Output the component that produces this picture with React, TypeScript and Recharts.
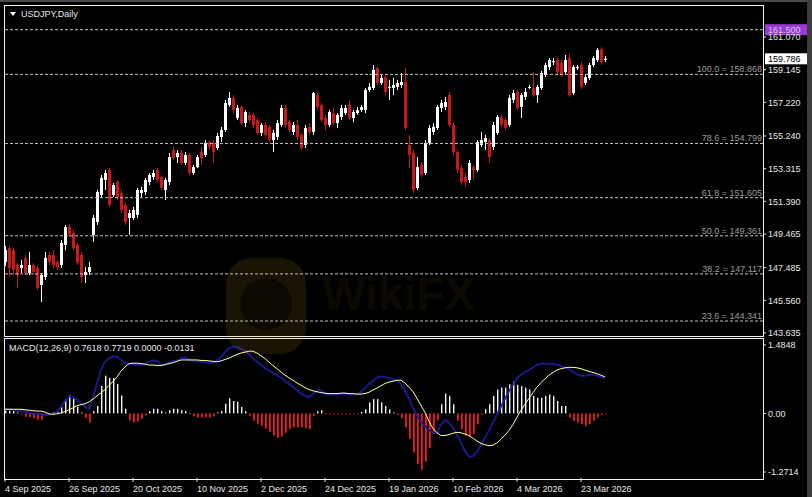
import { Bar, ComposedChart, Line, ReferenceLine, XAxis, YAxis } from 'recharts'

const W = 812
const H = 497
const FONT = '"Liberation Sans", Arial, sans-serif'
const SLOTS = 190

// daily candles, index 0 = 4 Sep 2025
const opens = [
  147.82, 148.64, 148.52, 147.64, 147.46, 148.05, 147.17, 147.64, 147.46, 146.46,
  146.93, 148.23, 148.23, 147.82, 147.64, 148.82, 149.88, 149.53, 148.82, 148.23,
  147.05, 147.23, 149.41, 150.17, 151.76, 152.65, 153.24, 151.76, 152.53, 151.88,
  151.18, 150.41, 150.41, 150.59, 151.88, 151.94, 152.53, 152.82, 153.24, 152.82,
  152.06, 152.53, 154.41, 154.0, 154.24, 153.65, 154.12, 153.06, 153.41, 154.3,
  154.12, 154.89, 154.83, 154.53, 155.18, 155.59, 157.07, 157.48, 156.3, 156.95,
  156.0, 156.48, 156.48, 156.18, 155.42, 155.89, 155.77, 155.0, 155.18, 155.89,
  156.89, 156.06, 155.47, 155.89, 155.3, 154.71, 155.77, 155.47, 157.65, 157.07,
  156.3, 155.89, 156.59, 156.0, 156.36, 156.59, 157.07, 156.3, 156.59, 156.77,
  156.77, 157.95, 158.07, 159.24, 158.36, 158.71, 158.07, 158.07, 158.13, 158.24,
  158.42, 154.71, 154.24, 152.18, 153.53, 153.06, 154.83, 155.47, 155.71, 156.89,
  156.95, 157.65, 155.89, 154.3, 153.35, 152.82, 152.65, 153.41, 153.24, 154.71,
  154.89, 155.0, 154.59, 155.42, 156.36, 156.18, 155.89, 157.36, 157.83, 156.95,
  157.54, 158.07, 158.07, 157.65, 158.07, 158.83, 159.3, 159.6, 159.72, 159.54,
  159.01, 159.83, 157.77, 159.24, 159.42, 158.36, 158.66, 159.42, 159.72, 160.36,
  159.72,
]
const highs = [
  148.76, 148.76, 148.64, 147.76, 147.94, 148.23, 148.41, 147.76, 147.58, 147.17,
  148.41, 148.41, 148.52, 147.94, 149.11, 150.0, 150.06, 149.7, 148.94, 148.41,
  147.52, 147.82, 150.59, 152.06, 152.94, 153.24, 153.35, 152.47, 152.65, 152.06,
  151.35, 150.88, 151.06, 152.18, 152.24, 152.77, 153.06, 153.24, 153.35, 152.94,
  152.77, 154.24, 154.59, 154.41, 154.41, 154.3, 154.24, 153.53, 154.12, 154.59,
  155.0, 155.0, 155.0, 155.42, 155.77, 157.36, 157.83, 157.65, 157.07, 157.07,
  156.77, 156.65, 156.59, 156.3, 156.0, 156.06, 155.89, 155.59, 156.18, 157.07,
  157.07, 156.18, 156.06, 156.18, 155.42, 155.89, 156.0, 157.83, 157.77, 157.18,
  156.48, 156.77, 156.89, 156.59, 157.07, 157.07, 157.36, 156.77, 156.95, 157.07,
  158.07, 158.36, 159.42, 159.36, 158.83, 158.83, 158.54, 158.66, 158.54, 158.95,
  159.24, 155.3, 154.41, 154.0, 153.71, 155.0, 155.89, 156.0, 157.07, 157.36,
  157.54, 157.83, 156.0, 154.41, 153.53, 153.06, 153.83, 153.53, 155.0, 155.47,
  155.3, 155.12, 156.06, 156.48, 156.48, 156.3, 157.65, 157.95, 157.95, 157.77,
  158.07, 158.24, 159.01, 158.24, 159.07, 159.54, 159.83, 159.83, 159.83, 159.72,
  160.01, 160.07, 159.42, 159.42, 159.6, 158.83, 159.54, 159.95, 160.42, 160.48,
  159.95,
]
const lows = [
  147.58, 146.93, 147.05, 146.29, 147.17, 147.05, 147.05, 147.05, 146.17, 145.46,
  146.76, 147.64, 147.46, 147.35, 147.46, 148.52, 149.29, 148.52, 147.64, 146.58,
  146.58, 147.05, 149.0, 150.0, 151.59, 152.06, 151.06, 151.65, 151.47, 150.7,
  150.0, 149.41, 150.29, 150.41, 151.65, 151.76, 152.35, 152.65, 152.53, 152.06,
  151.47, 152.35, 153.83, 153.65, 153.53, 153.53, 152.94, 152.94, 153.35, 153.53,
  154.0, 154.41, 153.65, 154.41, 154.89, 155.47, 156.95, 156.59, 156.18, 155.89,
  155.77, 156.0, 155.71, 155.3, 155.24, 155.18, 154.89, 154.3, 155.0, 155.77,
  155.71, 155.47, 155.3, 155.0, 154.41, 154.53, 155.3, 155.3, 156.77, 156.06,
  155.59, 155.77, 155.89, 155.71, 156.18, 156.48, 156.18, 156.06, 156.48, 156.65,
  156.59, 157.83, 157.95, 158.24, 158.24, 157.65, 157.36, 157.65, 157.95, 158.07,
  155.59, 153.35, 151.88, 152.06, 152.82, 152.94, 154.71, 155.3, 155.59, 156.65,
  156.77, 155.77, 154.12, 153.06, 152.35, 152.24, 152.47, 152.65, 153.12, 154.59,
  154.41, 153.65, 154.41, 155.3, 155.77, 155.59, 155.77, 157.18, 156.77, 156.3,
  157.36, 158.0, 157.54, 157.18, 157.95, 158.71, 159.13, 159.42, 158.89, 158.71,
  158.89, 157.54, 157.65, 159.13, 158.0, 158.24, 158.54, 159.3, 159.6, 159.42,
  159.6,
]
const closes = [
  148.52, 147.46, 147.35, 147.05, 147.64, 147.17, 147.64, 147.23, 146.29, 147.05,
  148.05, 147.82, 147.64, 147.52, 148.94, 149.88, 149.41, 148.64, 147.76, 146.93,
  147.23, 147.52, 150.41, 151.94, 152.77, 153.06, 151.18, 152.35, 151.65, 150.88,
  150.17, 150.7, 150.88, 152.06, 152.06, 152.65, 152.94, 153.06, 152.65, 152.18,
  152.65, 154.0, 153.94, 154.24, 153.65, 154.12, 153.06, 153.41, 154.0, 153.94,
  154.83, 154.59, 154.3, 155.24, 155.59, 157.18, 157.48, 156.77, 156.89, 156.0,
  156.65, 156.18, 155.89, 155.42, 155.89, 155.3, 155.0, 155.42, 156.0, 156.89,
  155.89, 155.59, 155.89, 155.18, 154.53, 155.71, 155.47, 157.77, 156.95, 156.18,
  155.89, 156.65, 156.0, 156.48, 156.89, 156.89, 156.3, 156.65, 156.77, 156.95,
  157.95, 158.13, 159.13, 158.36, 158.66, 157.83, 158.13, 158.24, 158.36, 158.42,
  155.71, 154.12, 152.06, 153.41, 152.94, 154.83, 155.71, 155.77, 156.95, 157.18,
  157.24, 155.89, 154.3, 153.24, 152.53, 152.53, 153.65, 153.24, 154.89, 155.0,
  155.12, 154.0, 155.89, 156.36, 155.89, 155.71, 157.48, 157.77, 156.89, 157.65,
  157.83, 158.13, 157.65, 158.13, 158.95, 159.42, 159.72, 159.65, 159.01, 158.83,
  159.72, 157.65, 159.3, 159.3, 158.13, 158.71, 159.42, 159.83, 160.3, 159.6,
  159.79,
]

// MACD pane
const macdLine = [
  0.1, 0.09, 0.08, 0.06, 0.05, 0.04, 0.02, 0.0, -0.01, -0.02,
  -0.03, -0.03, -0.01, 0.03, 0.14, 0.27, 0.36, 0.36, 0.3, 0.22,
  0.14, 0.1, 0.35, 0.65, 0.95, 1.12, 1.2, 1.24, 1.23, 1.16,
  1.1, 1.08, 1.07, 1.05, 1.06, 1.06, 1.13, 1.15, 1.14, 1.06,
  1.06, 1.1, 1.13, 1.16, 1.2, 1.21, 1.17, 1.14, 1.13, 1.12,
  1.11, 1.1, 1.1, 1.15, 1.22, 1.33, 1.41, 1.45, 1.44, 1.4,
  1.36, 1.28, 1.2, 1.12, 1.05, 0.98, 0.93, 0.88, 0.83, 0.77,
  0.71, 0.64, 0.58, 0.5, 0.43, 0.38, 0.35, 0.42, 0.5, 0.5,
  0.42, 0.41, 0.41, 0.41, 0.42, 0.43, 0.42, 0.41, 0.41, 0.47,
  0.55, 0.64, 0.71, 0.78, 0.8, 0.79, 0.77, 0.74, 0.71, 0.65,
  0.49, 0.32, 0.12, -0.05, -0.18, -0.28, -0.36, -0.42, -0.44, -0.24,
  -0.14, -0.2, -0.32, -0.46, -0.64, -0.82, -0.94, -0.93, -0.83, -0.68,
  -0.52, -0.37, -0.2, -0.02, 0.15, 0.32, 0.48, 0.62, 0.76, 0.84,
  0.9, 0.94, 1.0, 1.06, 1.08, 1.08, 1.08, 1.07, 1.06, 1.03,
  1.0, 0.96, 0.9, 0.85, 0.82, 0.82, 0.84, 0.84, 0.82, 0.79,
  0.76,
]
const signalLine = [
  0.09, 0.09, 0.09, 0.09, 0.09, 0.08, 0.07, 0.06, 0.05, 0.05,
  0.03, -0.01, -0.02, -0.01, 0.01, 0.04, 0.08, 0.12, 0.17, 0.19,
  0.21, 0.25, 0.31, 0.38, 0.45, 0.52, 0.61, 0.69, 0.79, 0.92,
  1.01, 1.08, 1.09, 1.09, 1.08, 1.07, 1.05, 1.05, 1.04, 1.04,
  1.06, 1.08, 1.1, 1.13, 1.16, 1.16, 1.16, 1.16, 1.16, 1.15,
  1.15, 1.14, 1.13, 1.12, 1.14, 1.17, 1.2, 1.24, 1.28, 1.31,
  1.33, 1.35, 1.35, 1.31, 1.25, 1.19, 1.11, 1.04, 0.97, 0.9,
  0.83, 0.77, 0.72, 0.66, 0.61, 0.56, 0.52, 0.49, 0.47, 0.45,
  0.44, 0.43, 0.43, 0.43, 0.44, 0.44, 0.43, 0.43, 0.42, 0.42,
  0.43, 0.46, 0.51, 0.55, 0.6, 0.65, 0.68, 0.7, 0.72, 0.72,
  0.66, 0.57, 0.47, 0.33, 0.17, 0.02, -0.17, -0.33, -0.42, -0.48,
  -0.48, -0.46, -0.43, -0.41, -0.42, -0.45, -0.48, -0.54, -0.6, -0.65,
  -0.68, -0.7, -0.69, -0.64, -0.56, -0.47, -0.37, -0.24, -0.08, 0.07,
  0.2, 0.33, 0.45, 0.57, 0.67, 0.75, 0.83, 0.89, 0.94, 0.97,
  0.99, 1.0, 1.0, 0.99, 0.97, 0.94, 0.91, 0.89, 0.86, 0.83,
  0.79,
]
const histogram = [
  0.06, 0.06, 0.05, 0.02, -0.02, -0.07, -0.08, -0.1, -0.14, -0.14,
  -0.05, -0.02, 0.03, 0.05, 0.14, 0.3, 0.39, 0.32, 0.14, 0.02,
  -0.1, -0.2, 0.05, 0.16, 0.6, 0.82, 0.77, 0.77, 0.64, 0.39,
  0.1, -0.15, -0.2, -0.18, -0.12, -0.04, 0.05, 0.1, 0.1, 0.05,
  0.02, 0.07, 0.1, 0.1, 0.07, 0.05, 0.01, -0.06, -0.09, -0.09,
  -0.08, -0.09, -0.06, 0.02, 0.05, 0.21, 0.33, 0.27, 0.25, 0.14,
  0.05, -0.05, -0.16, -0.22, -0.27, -0.33, -0.4, -0.48, -0.53, -0.5,
  -0.42, -0.34, -0.3, -0.3, -0.3, -0.32, -0.34, -0.05, 0.05, 0.07,
  -0.02, -0.02, -0.02, -0.02, -0.02, -0.02, -0.02, -0.02, -0.02, 0.03,
  0.09, 0.24, 0.31, 0.31, 0.24, 0.16, 0.09, 0.02, -0.03, -0.1,
  -0.3, -0.55, -0.85, -1.1, -1.23, -1.05, -0.75, -0.45, -0.15, 0.2,
  0.43, 0.38, 0.2, -0.16, -0.34, -0.48, -0.52, -0.44, -0.23, -0.03,
  0.09, 0.2, 0.38, 0.52, 0.56, 0.56, 0.63, 0.69, 0.62, 0.59,
  0.56, 0.52, 0.38, 0.34, 0.34, 0.38, 0.41, 0.38, 0.27, 0.16,
  0.16, -0.09, -0.16, -0.2, -0.23, -0.27, -0.23, -0.16, -0.09, -0.03,
  -0.01,
]

const dateTickIdx = [0, 16, 32, 48, 64, 80, 96, 112, 128, 144]
const dateLabels = [
  '4 Sep 2025', '26 Sep 2025', '20 Oct 2025', '10 Nov 2025', '2 Dec 2025',
  '24 Dec 2025', '19 Jan 2026', '10 Feb 2026', '4 Mar 2026', '23 Mar 2026',
]
const priceTicks = [161.07, 159.145, 157.22, 155.24, 153.315, 151.39, 149.465, 147.485, 145.56, 143.635]
const fibLevels = [158.868, 154.799, 151.605, 149.361, 147.117, 144.341]
const fibNames = ['100.0', '78.6', '61.8', '50.0', '38.2', '23.6']
const targetLevel = 161.5
const lastPrice = 159.786
const macdTicks = [1.4848, 0, -1.2714]
const macdLegend = 'MACD(12,26,9) 0.7618 0.7719 0.0000 -0.0131'

const rows = Array.from({ length: SLOTS }, (_, i) => ({
  i,
  open: opens[i],
  high: highs[i],
  low: lows[i],
  close: closes[i],
  macd: macdLine[i],
  signal: signalLine[i],
  hist: histogram[i],
}))

const Candle = (props: any) => {
  const { x, y, width, height, index } = props
  const high = highs[index]
  if (high == null) return <g />
  const low = lows[index]
  const open = opens[index]
  const close = closes[index]
  const top = Math.min(y, y + height)
  const h = Math.abs(height)
  const k = h / (high - low)
  const cx = Math.round(x + width / 2)
  const yO = top + (high - open) * k
  const yC = top + (high - close) * k
  const color = close >= open ? '#ffffff' : '#c81818'
  return (
    <g>
      <line x1={cx + 0.5} x2={cx + 0.5} y1={top} y2={top + h} stroke={color} strokeWidth={1} />
      <rect x={cx - 1} y={Math.min(yO, yC)} width={3} height={Math.max(1, Math.abs(yO - yC))} fill={color} />
    </g>
  )
}

const HistBar = (props: any) => {
  const { x, y, width, height, index } = props
  const v = histogram[index]
  if (v == null) return <g />
  const cx = Math.round(x + width / 2)
  return (
    <rect
      x={cx}
      y={Math.min(y, y + height)}
      width={v >= 0 ? 1.4 : 1.8}
      height={Math.max(0.5, Math.abs(height))}
      fill={v >= 0 ? '#f4f4f4' : '#f01a1a'}
    />
  )
}

const fibLabel = (text: string) => (p: any) => {
  const vb = p.viewBox
  return (
    <text x={vb.x + vb.width - 1} y={vb.y - 2} textAnchor="end" fill="#9c9c9c" fontSize={9} fontFamily={FONT}>
      {text}
    </text>
  )
}

const axisTag = (text: string, bg: string, fg: string) => (p: any) => {
  const vb = p.viewBox
  const x0 = vb.x + vb.width + 2
  return (
    <g>
      <rect x={x0} y={vb.y - 5.5} width={42} height={11} fill={bg} />
      <text x={x0 + 3} y={vb.y + 3.5} fill={fg} fontSize={9} fontFamily={FONT}>
        {text}
      </text>
    </g>
  )
}

const DateTick = (props: any) => {
  const { x, y, payload } = props
  const k = dateTickIdx.indexOf(payload.value)
  return (
    <text x={x} y={y} dy={8} textAnchor="start" fill="#e8e8e8" fontSize={9} fontFamily={FONT}>
      {dateLabels[k]}
    </text>
  )
}

const tickStyle = { fill: '#e8e8e8', fontSize: 9, fontFamily: FONT }

export default function App() {
  return (
    <div style={{ position: 'absolute', left: 0, top: 0, width: W, height: H, background: '#000', overflow: 'hidden' }}>
      {/* window edges */}
      <div style={{ position: 'absolute', left: 0, top: 0, width: W, height: 2, background: '#4a4a4a' }} />
      <div style={{ position: 'absolute', left: 807, top: 0, width: 5, height: H, background: '#3c3c3c' }} />
      {/* pane frames */}
      <div style={{ position: 'absolute', left: 4, top: 5, width: 760, height: 332, border: '1px solid #f0f0f0', boxSizing: 'border-box' }} />
      <div style={{ position: 'absolute', left: 4, top: 338, width: 760, height: 142, border: '1px solid #f0f0f0', boxSizing: 'border-box' }} />

      <div style={{ position: 'absolute', left: 0, top: 0 }}>
        <ComposedChart width={W} height={H} data={rows} margin={{ top: 6, right: 0, bottom: 162, left: 3 }} barCategoryGap={0} barGap={0}>
          <XAxis dataKey="i" hide />
          <YAxis
            orientation="right"
            width={49}
            domain={[143.517, 162.896]}
            allowDataOverflow
            ticks={priceTicks}
            interval={0}
            tickFormatter={(v: number) => v.toFixed(3)}
            tickSize={3}
            tickMargin={2}
            axisLine={false}
            tickLine={{ stroke: '#e8e8e8' }}
            tick={tickStyle}
          />
          <ReferenceLine y={targetLevel} stroke="#c4c4c4" strokeDasharray="3 2" label={axisTag('161.500', '#9a3ad6', '#d8c8e8')} />
          {fibLevels.map((lv, k) => (
            <ReferenceLine
              key={lv}
              y={lv}
              stroke="#c4c4c4"
              strokeDasharray="3 2"
              label={fibLabel(`${fibNames[k]} = ${lv.toFixed(3)}`)}
            />
          ))}
          <Bar
            dataKey={(d: any) => (d.high == null ? null : [d.low, d.high])}
            shape={(p: any) => <Candle {...p} />}
            isAnimationActive={false}
          />
          <ReferenceLine y={lastPrice} stroke="none" label={axisTag(lastPrice.toFixed(3), '#ffffff', '#000000')} />
        </ComposedChart>
      </div>

      <div style={{ position: 'absolute', left: 0, top: 0 }}>
        <ComposedChart width={W} height={H} data={rows} margin={{ top: 339, right: 0, bottom: 0, left: 3 }} barCategoryGap={0} barGap={0}>
          <XAxis
            dataKey="i"
            ticks={dateTickIdx}
            interval={0}
            height={19}
            tickSize={4}
            tickMargin={2}
            axisLine={false}
            tickLine={{ stroke: '#e8e8e8' }}
            tick={<DateTick />}
          />
          <YAxis
            orientation="right"
            width={49}
            domain={[-1.4016, 1.615]}
            allowDataOverflow
            ticks={macdTicks}
            interval={0}
            tickFormatter={(v: number) => (v === 0 ? '0.00' : v.toFixed(4))}
            tickSize={3}
            tickMargin={2}
            axisLine={false}
            tickLine={{ stroke: '#e8e8e8' }}
            tick={tickStyle}
          />
          <Bar dataKey="hist" shape={(p: any) => <HistBar {...p} />} isAnimationActive={false} />
          <Line type="linear" dataKey="macd" stroke="#1c1c9c" strokeOpacity={0.9} strokeWidth={2} dot={false} isAnimationActive={false} />
          <Line type="linear" dataKey="signal" stroke="#ffffa0" strokeWidth={1} dot={false} isAnimationActive={false} />
        </ComposedChart>
      </div>

      {/* titles and watermark */}
      <svg width={W} height={H} style={{ position: 'absolute', left: 0, top: 0, pointerEvents: 'none' }}>
        <polygon points="10,12 16,12 13,16" fill="#ffffff" />
        <text x={21} y={17} fill="#e8e8e8" fontSize={9} fontFamily={FONT}>
          USDJPY,Daily
        </text>
        <text x={9} y={351} fill="#e8e8e8" fontSize={9} fontFamily={FONT}>
          {macdLegend}
        </text>
        <g opacity={0.13}>
          <rect x={226} y={258} width={80} height={96} rx={26} fill="#c89a28" />
          <circle cx={266} cy={304} r={26} fill="#5a4510" />
          <text x={322} y={310} fill="#c89a28" fontSize={46} fontWeight="bold" fontFamily={FONT} opacity={0.45}>
            WikiFX
          </text>
        </g>
      </svg>
    </div>
  )
}
